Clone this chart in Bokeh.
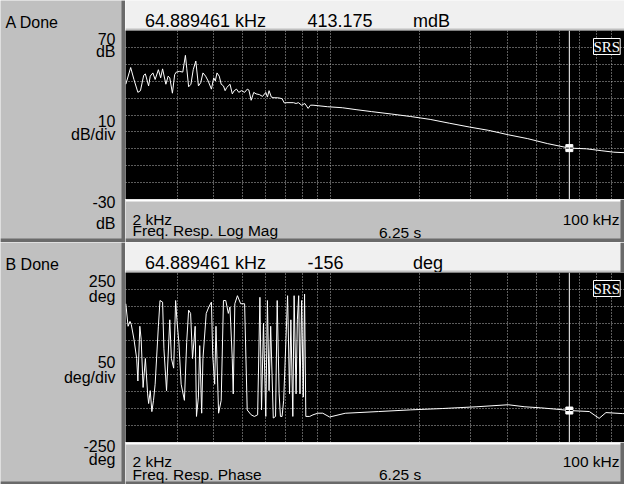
from bokeh.plotting import figure
from bokeh.models import Range1d, Label, Span, FixedTicker
from bokeh.layouts import column, row
from bokeh.core.properties import value
from bokeh.embed import file_html
from bokeh.resources import INLINE

# ---------------- data ----------------
freq_start_hz = 2000
freq_stop_hz = 100000
cursor_freq_hz = 64889.461
grid_freqs_hz = [3000, 4000, 5000, 6000, 7000, 8000, 9000, 10000,
                 20000, 30000, 40000, 50000, 60000, 70000, 80000, 90000]

mag_freq_hz = [2005, 2083, 2137, 2204, 2249, 2307, 2337, 2397, 2428, 2479,
               2523, 2588, 2635, 2675, 2745, 2794, 2830, 2889, 2941, 2979,
               3055, 3134, 3199, 3232, 3281, 3341, 3401, 3471, 3543, 3606,
               3671, 3747, 3824, 3923, 3994, 4045, 4097, 4171, 4235, 4312,
               4367, 4424, 4539, 4620, 4691, 4776, 4861, 4962, 5089, 5195,
               5261, 5356, 5467, 5565, 5709, 5857, 6008, 6086, 6164, 6275,
               6404, 6570, 6705, 6826, 6950, 7092, 7464, 7618, 7755, 7956,
               8162, 8373, 8524, 8700, 9758, 10945, 12277, 13772, 16050, 18704,
               21797, 25401, 29600, 34495, 40198, 46845, 54590, 64889, 74200, 83253,
               91935, 100000]
mag_db = [38.2, 48.1, 41.0, 33.4, 34.4, 43.5, 44.3, 37.2, 43.0, 44.9,
          41.0, 46.8, 42.0, 47.3, 38.2, 43.0, 42.0, 32.9, 43.9, 45.4,
          45.8, 45.4, 55.3, 47.7, 36.7, 38.2, 46.8, 51.9, 37.2, 39.1,
          44.9, 43.0, 40.1, 35.3, 42.0, 40.1, 44.9, 43.0, 38.2, 37.2,
          34.4, 36.3, 38.2, 32.5, 34.4, 35.3, 33.4, 34.4, 33.4, 35.3,
          34.8, 28.7, 33.4, 32.5, 32.1, 31.0, 33.4, 30.6, 34.4, 30.6,
          30.2, 30.2, 30.0, 29.6, 27.1, 27.3, 27.3, 26.8, 27.3, 25.8,
          26.8, 23.9, 25.8, 25.8, 24.9, 24.3, 23.1, 22.0, 20.6, 19.1,
          17.4, 15.1, 12.9, 10.9, 8.3, 6.0, 3.1, 0.41, 0.0, -1.1,
          -2.0, -2.3]
mag_cursor_db = 0.413175
mag_range_db = (-30, 70)
mag_grid_db = [-20, -10, 0, 10, 20, 30, 40, 50, 60]

phase_freq_hz = [2005, 2041, 2072, 2093, 2137, 2183, 2204, 2238, 2261, 2296,
                 2337, 2379, 2398, 2428, 2459, 2491, 2523, 2588, 2621, 2675,
                 2703, 2759, 2830, 2866, 2918, 2963, 2993, 3039, 3094, 3174,
                 3231, 3281, 3332, 3383, 3453, 3489, 3542, 3579, 3634, 3671,
                 3766, 3844, 3923, 3963, 4024, 4065, 4149, 4235, 4311, 4389,
                 4479, 4537, 4618, 4654, 4713, 4810, 4934, 5088, 5193, 5355,
                 5493, 5635, 5737, 5810, 5900, 6007, 6084, 6163, 6242, 6370,
                 6485, 6569, 6670, 6738, 6825, 6912, 7127, 7237, 7312, 7425,
                 7501, 7617, 7695, 7774, 7854, 7957, 8059, 8142, 8222, 8477,
                 8698, 9036, 9389, 9906, 11197, 14527, 18704, 24073, 31232, 40198,
                 45800, 51780, 60340, 64889, 75920, 81980, 86470, 98500, 100000]
phase_deg = [158.1, 91.9, 106.1, 96.6, 54.0, -2.9, -69.1, 91.9, 54.0, -88.1,
             -2.9, -107.0, -135.4, -97.6, -159.1, -126.0, -78.6, 91.9, 167.6, 162.9,
             25.6, -97.6, 110.8, -2.9, -31.3, 167.6, 110.8, 44.5, -78.6, -126.0,
             44.5, 139.2, 129.7, -2.9, 91.9, -173.3, -116.5, 35.0, -163.8, -2.9,
             129.7, 148.7, 162.9, 6.6, -78.6, 91.9, -163.8, -126.0, 167.6, 167.6,
             129.7, 148.7, -2.9, -107.0, 158.1, 181.8, 158.1, 158.1, -154.4, -168.6,
             -173.3, -168.6, 177.1, -154.4, 101.3, -173.3, 167.6, -97.6, 91.9, -178.0,
             -173.3, 167.6, -107.0, -173.3, -173.3, -126.0, 181.8, -107.0, 110.8, -173.3,
             181.8, -107.0, 110.8, 181.8, -107.0, 167.6, -116.5, 186.5, -173.3, -173.3,
             -168.6, -163.8, -163.8, -175.0, -164.0, -159.0, -154.0, -150.0, -145.0, -139.0,
             -145.0, -148.0, -153.0, -156.0, -159.0, -179.0, -162.0, -165.0, -165.0]
phase_cursor_deg = -156
phase_range_deg = (-250, 250)
phase_grid_deg = [-200, -150, -100, -50, 0, 50, 100, 150, 200]

panel_a_texts = {"name": "A Done", "freq": "64.889461 kHz", "value": "413.175", "unit": "mdB",
                 "scale": ["70", "dB", "10", "dB/div", "-30", "dB"],
                 "start": "2 kHz", "stop": "100 kHz", "meas": "Freq. Resp. Log Mag", "time": "6.25 s"}
panel_b_texts = {"name": "B Done", "freq": "64.889461 kHz", "value": "-156", "unit": "deg",
                 "scale": ["250", "deg", "50", "deg/div", "-250", "deg"],
                 "start": "2 kHz", "stop": "100 kHz", "meas": "Freq. Resp. Phase", "time": "6.25 s"}

# ---------------- styling / layout ----------------
W = 624
LEFT = 125
FW = W - LEFT
FONT = "Liberation Sans"
GRAY = "#c0c0c0"
LIGHT = "#f0f0f0"
HATCH = "#6a6a6a"


def deco(w, h, fill):
    p = figure(width=w, height=h, x_range=Range1d(0, w), y_range=Range1d(h, 0),
               output_backend="svg", toolbar_location=None, min_border=0)
    p.xaxis.visible = False
    p.yaxis.visible = False
    p.grid.visible = False
    p.outline_line_color = None
    p.background_fill_color = fill
    p.border_fill_color = fill
    return p


def rect(p, l, r, t, b, color):
    p.quad(left=[l], right=[r], top=[t], bottom=[b], fill_color=color, line_color=None)


def txt(p, x, y, s, size, align="left"):
    p.text(x=[x], y=[y], text=[s], text_font=value(FONT), text_font_size=value(f"{size}px"),
           text_align=align, text_baseline="alphabetic", text_color="black")


def make_plot(h, yrange, ygrid, xs, ys, cursor_y):
    p = figure(width=FW, height=h, x_axis_type="log",
               x_range=Range1d(freq_start_hz, freq_stop_hz),
               y_range=Range1d(*yrange),
               output_backend="svg", toolbar_location=None, min_border=0)
    p.background_fill_color = "black"
    p.border_fill_color = "black"
    p.outline_line_color = None
    p.xaxis.visible = False
    p.yaxis.visible = False
    p.xgrid.ticker = FixedTicker(ticks=grid_freqs_hz)
    p.ygrid.ticker = FixedTicker(ticks=ygrid)
    for g in (p.xgrid, p.ygrid):
        g.grid_line_color = "#b8b8b8"
        g.grid_line_dash = "1 2"
        g.grid_line_width = 1
    p.line(xs, ys, line_color="white", line_width=1)
    p.add_layout(Span(location=cursor_freq_hz, dimension="height",
                      line_color="white", line_width=1))
    p.scatter([cursor_freq_hz], [cursor_y], marker="square", size=7,
              fill_color="white", line_color="white")
    p.scatter([cursor_freq_hz], [cursor_y], marker="dash", size=7,
              line_color="black", line_width=1)
    p.add_layout(Label(x=FW - 31, y=h - 16, x_units="screen", y_units="screen",
                       text="SRS", text_font="Liberation Serif", text_font_size="15px",
                       text_color="white", text_baseline="alphabetic",
                       background_fill_color="black", border_line_color="white"))
    return p


def make_panel(H, top, bottom, hatch_h, yrange, ygrid, xs, ys, cursor_y, t, ys_left,
               name_y, hdr_y, foot_y, head_hatch):
    ph = H - top - bottom
    # left label column
    left = deco(LEFT, H, GRAY)
    rect(left, LEFT - 4, LEFT, 0, H, HATCH)
    rect(left, 0, LEFT, H - hatch_h, H, HATCH)
    txt(left, 5, name_y, t["name"], 16)
    for s, y in zip(t["scale"], ys_left):
        txt(left, 115, y, s, 16, align="right")
    # header
    head = deco(FW, top, LIGHT)
    rect(head, 0, FW, top - 2, top, GRAY)
    if head_hatch:
        rect(head, FW - 4, FW, 0, top, HATCH)
    txt(head, 19.5, hdr_y, t["freq"], 18)
    txt(head, 182, hdr_y, t["value"], 18)
    txt(head, 287.5, hdr_y, t["unit"], 18)
    # plot
    plot = make_plot(ph, yrange, ygrid, xs, ys, cursor_y)
    # footer
    foot = deco(FW, bottom, GRAY)
    rect(foot, 0, FW, 0, 2, "white")
    rect(foot, FW - 4, FW, 0, bottom, HATCH)
    rect(foot, 0, FW, bottom - hatch_h, bottom, HATCH)
    txt(foot, 7, foot_y[0], t["start"], 15.5)
    txt(foot, 494, foot_y[0], t["stop"], 15.5, align="right")
    txt(foot, 7, foot_y[1], t["meas"], 15.5)
    txt(foot, 253.5, foot_y[2], t["time"], 15.5)
    return row(left, column(head, plot, foot, spacing=0), spacing=0)


panel_a = make_panel(242, 30, 43, 4, mag_range_db, mag_grid_db, mag_freq_hz, mag_db,
                     mag_cursor_db, panel_a_texts,
                     [38.7, 51.3, 120, 133.6, 201.3, 222.6], 22, 20, (20, 31.2, 32.5), False)
panel_b = make_panel(242, 30, 42, 3, phase_range_deg, phase_grid_deg, phase_freq_hz, phase_deg,
                     phase_cursor_deg, panel_b_texts,
                     [38.7, 54.2, 119, 134.5, 203.3, 216.8], 22.3, 20, (19.2, 31.5, 32.3), True)

layout = column(panel_a, panel_b, spacing=0)
open("out.html", "w").write(file_html(layout, INLINE))
